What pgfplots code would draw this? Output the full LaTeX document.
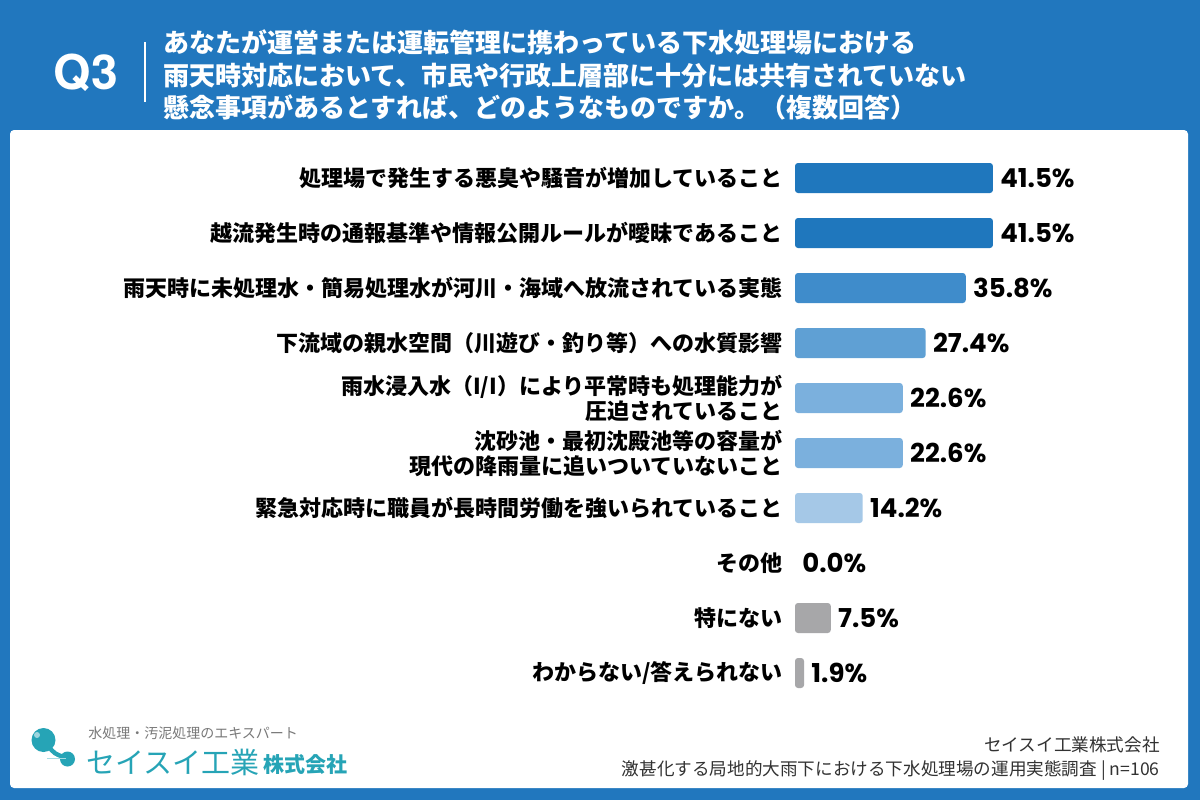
\documentclass[border=0pt]{standalone}
\usepackage{fontspec}
\usepackage{pgfplots}
\pgfplotsset{compat=1.18}
\setmainfont{Noto Sans CJK JP}
\newfontfamily\numfont{Poppins}
\newfontfamily\qfont{TeX Gyre Heros}

\definecolor{bgblue}{RGB}{33,119,190}
\definecolor{barA}{RGB}{31,119,189}
\definecolor{barB}{RGB}{63,140,203}
\definecolor{barC}{RGB}{95,160,212}
\definecolor{barD}{RGB}{123,176,221}
\definecolor{barE}{RGB}{165,200,231}
\definecolor{barG}{RGB}{167,167,169}
\definecolor{logoteal}{RGB}{38,164,182}
\definecolor{foottext}{RGB}{50,50,50}

\begin{document}
\begin{tikzpicture}
% frame, header and footer (1 unit = one 1/1200 of the width)
\begin{scope}[x=0.5pt,y=-0.5pt]
  \fill[bgblue] (0,0) rectangle (1200,800);
  \fill[white, rounded corners=2pt] (10,130) rectangle (1188,788);
  \node[anchor=center, text=white, inner sep=0pt,
        font=\qfont\bfseries\fontsize{24}{24}\selectfont] at (86,73) {Q3};
  \draw[white, line width=0.8pt] (145,42) -- (145,102);
  \node[anchor=west, align=left, text=white, inner sep=0pt,
        font=\bfseries\fontsize{13}{16.25}\selectfont] at (163,75)
    {あなたが運営または運転管理に携わっている下水処理場における\\
     雨天時対応において、市民や行政上層部に十分には共有されていない\\
     懸念事項があるとすれば、どのようなものですか。（複数回答）};
  % company logo
  \draw[logoteal, line width=2.2pt, line cap=round] (48,746) .. controls (55,754) .. (64,757);
  \fill[logoteal] (43.5,740) circle (12);
  \fill[white, opacity=0.55] (37,735) circle (3);
  \fill[logoteal] (67.5,759) circle (7.5);
  \draw[logoteal!40!white, line width=0.8pt] (47,758.5) -- (66,758.5);
  \node[anchor=west, inner sep=0pt, text=gray!95!black,
        font=\fontsize{7}{7}\selectfont] at (88,733) {水処理・汚泥処理のエキスパート};
  \node[anchor=west, inner sep=0pt, text=logoteal,
        font=\fontsize{14.5}{14.5}\selectfont] at (86,762) {セイスイ工業};
  \node[anchor=west, inner sep=0pt, text=logoteal,
        font=\bfseries\fontsize{10.5}{10.5}\selectfont] at (263,764) {株式会社};
  % source
  \node[anchor=east, inner sep=0pt, text=foottext,
        font=\fontsize{8.8}{8.8}\selectfont] at (1160,745) {セイスイ工業株式会社};
  \node[anchor=east, inner sep=0pt, text=foottext,
        font=\fontsize{8.8}{8.8}\selectfont] at (1160,771)
        {激甚化する局地的大雨下における下水処理場の運用実態調査\ |\ n=106};
\end{scope}

\begin{axis}[
  at={(397.5pt,-75.25pt)}, anchor=north west,
  scale only axis, width=119.25pt, height=275pt,
  xmin=0, xmax=50, ymin=-0.5, ymax=9.5, y dir=reverse,
  xbar, bar width=15pt, bar shift=0pt,
  axis line style={draw=none}, xtick=\empty,
  ytick={0,...,9}, major tick length=0pt,
  yticklabels={
    処理場で発生する悪臭や騒音が増加していること,
    越流発生時の通報基準や情報公開ルールが曖昧であること,
    雨天時に未処理水・簡易処理水が河川・海域へ放流されている実態,
    下流域の親水空間（川遊び・釣り等）への水質影響,
    {雨水浸入水（I/I）により平常時も処理能力が\\圧迫されていること},
    {沈砂池・最初沈殿池等の容量が\\現代の降雨量に追いついていないこと},
    緊急対応時に職員が長時間労働を強いられていること,
    その他,
    特にない,
    わからない/答えられない},
  yticklabel style={align=right, inner sep=0pt, xshift=-6pt,
    font=\bfseries\fontsize{11}{12.5}\selectfont},
  clip=false,
  point meta=x,
  nodes near coords={\pgfmathprintnumber[fixed,fixed zerofill,precision=1,assume math mode=true]{\pgfplotspointmeta}\%},
  every node near coord/.append style={anchor=west, inner sep=0pt, xshift=3.5pt,
    text=black, font=\numfont\bfseries\fontsize{13}{13}\selectfont},
  every axis plot/.append style={draw=none, rounded corners=1.5pt},
]
\addplot[fill=barA] coordinates {(41.5,0)};
\addplot[fill=barA] coordinates {(41.5,1)};
\addplot[fill=barB] coordinates {(35.8,2)};
\addplot[fill=barC] coordinates {(27.4,3)};
\addplot[fill=barD] coordinates {(22.6,4)};
\addplot[fill=barD] coordinates {(22.6,5)};
\addplot[fill=barE] coordinates {(14.2,6)};
\addplot[fill=none] coordinates {(0.0,7)};
\addplot[fill=barG] coordinates {(7.5,8)};
\addplot[fill=barG] coordinates {(1.9,9)};
\end{axis}
\end{tikzpicture}
\end{document}
